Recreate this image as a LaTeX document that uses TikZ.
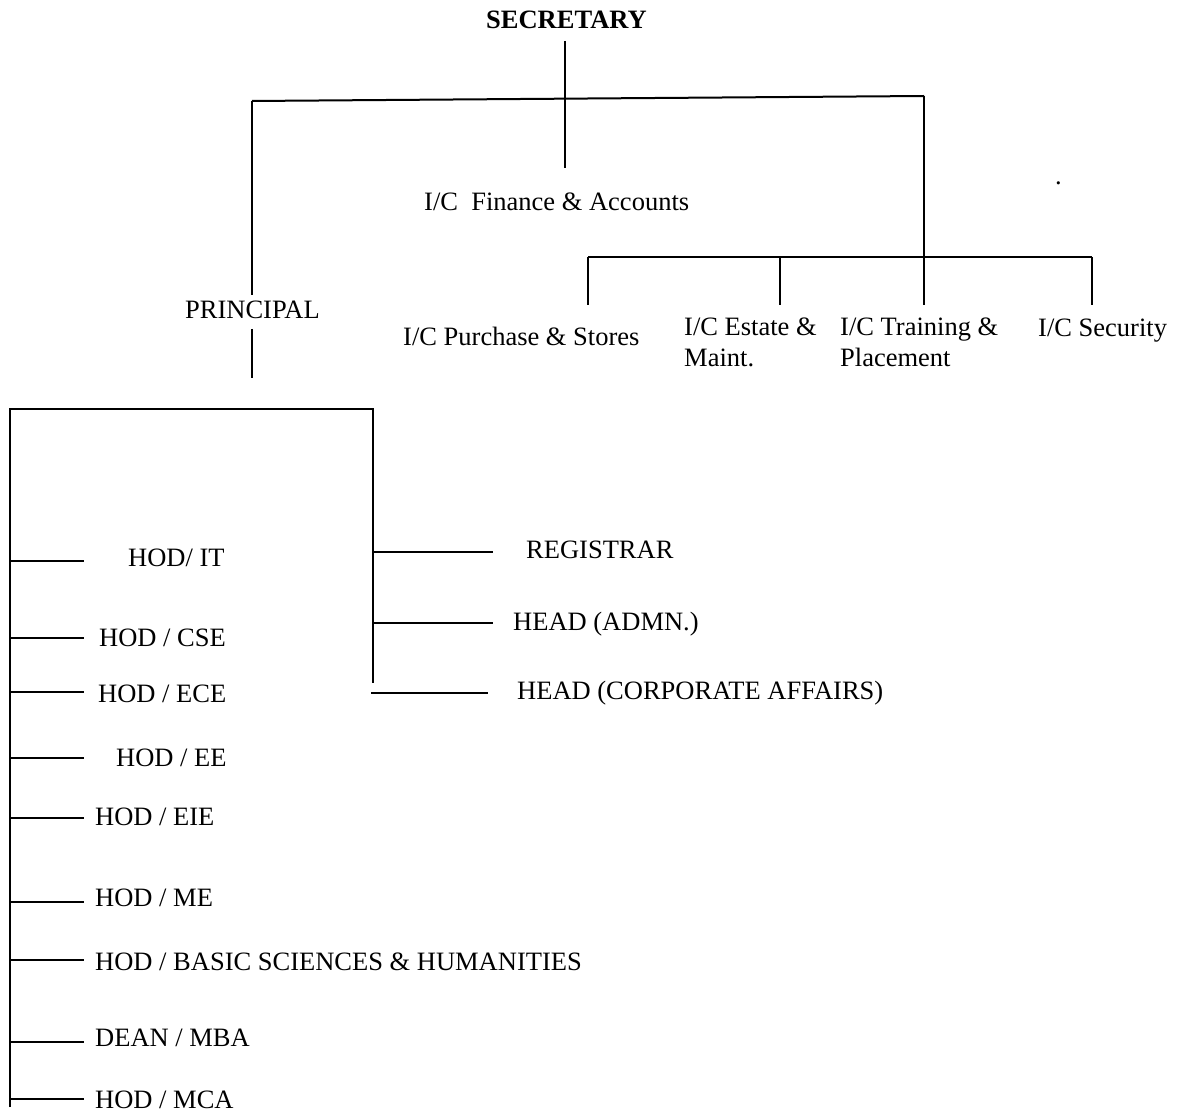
\documentclass[tikz,border=0pt]{standalone}
\usepackage{fontspec}
\setmainfont{Liberation Serif}
\begin{document}
\begin{tikzpicture}[x=1pt,y=-1pt,
  lbl/.style={anchor=base west,inner sep=0pt,font=\fontsize{26.5}{31}\selectfont},
  lbl2/.style={anchor=north west,inner sep=0pt,align=left,font=\fontsize{26.5}{31}\selectfont},
  ln/.style={line width=2pt}]
\useasboundingbox (0,0) rectangle (1178,1115);
% texts
\node[lbl,font=\fontsize{26.5}{31}\selectfont\bfseries] (sec) at (486,28.5) {SECRETARY};
\node[lbl] (fin) at (424,211) {I/C\ \ Finance \& Accounts};
\node[lbl] (pri) at (185,319) {PRINCIPAL};
\node[lbl] (pur) at (403,345) {I/C Purchase \& Stores};
\node[lbl2] (est) at (684,318) {I/C Estate \&\\Maint.};
\node[lbl2] (tra) at (840,318) {I/C Training \&\\Placement};
\node[lbl] (secu) at (1038,336) {I/C Security};
\node[lbl] (dot) at (1055,185) {.};
\node[lbl] (reg) at (526,558) {REGISTRAR};
\node[lbl] (adm) at (513,630.5) {HEAD (ADMN.)};
\node[lbl] (cor) at (517,699.5) {HEAD (CORPORATE AFFAIRS)};
\node[lbl] (it) at (128,566) {HOD/ IT};
\node[lbl] (cse) at (99,646) {HOD / CSE};
\node[lbl] (ece) at (98,702.5) {HOD / ECE};
\node[lbl] (ee) at (116,766) {HOD / EE};
\node[lbl] (eie) at (95,825) {HOD / EIE};
\node[lbl] (me) at (95,906.5) {HOD / ME};
\node[lbl] (bsh) at (95,970) {HOD / BASIC SCIENCES \& HUMANITIES};
\node[lbl] (mba) at (95,1046.5) {DEAN / MBA};
\node[lbl] (mca) at (95,1108.5) {HOD / MCA};
% junction coordinates
\coordinate (s1) at (565,41);
\coordinate (s2) at (565,168);
\coordinate (hL) at (252,101);
\coordinate (hR) at (924,96);
\coordinate (pTop) at (252,295);
\coordinate (pB1) at (252,329);
\coordinate (pB2) at (252,378);
\coordinate (rB) at (924,305);
\coordinate (bL) at (588,257);
\coordinate (bR) at (1092,257);
\coordinate (bE) at (780,257);
\coordinate (boxL) at (10,409);
\coordinate (boxR) at (373,409);
\coordinate (boxLB) at (10,1107);
\coordinate (boxRB) at (373,683);
% top lines
\draw[ln] (s1) -- (s2);
\draw[ln] (hL) -- (hR);
\draw[ln] (hL) -- (pTop);
\draw[ln] (pB1) -- (pB2);
\draw[ln] (hR) -- (rB);
\draw[ln] (bL) -- (bR);
\draw[ln] (bL) -- ++(0,48);
\draw[ln] (bE) -- ++(0,48);
\draw[ln] (bR) -- ++(0,48);
% principal box
\draw[ln] (boxLB) -- (boxL) -- (boxR) -- (boxRB);
% right branches
\draw[ln] (373,552) -- (493,552);
\draw[ln] (373,623) -- (493,623);
\draw[ln] (371,693) -- (488,693);
% left branches
\foreach \yy in {561,638,692,758,818,902,960,1042,1099}
  \draw[ln] (10,\yy) -- (84,\yy);
\end{tikzpicture}
\end{document}
